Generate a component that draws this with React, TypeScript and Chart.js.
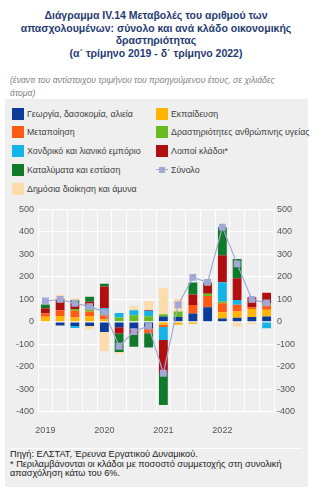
import React, { useEffect, useRef } from "react";
import { Chart, registerables } from "chart.js";

Chart.register(...registerables);

const quarters = ["2019", "", "", "", "2020", "", "", "", "2021", "", "", "", "2022", "", "", ""];

const agriculture = [0, -16, -18, -18, -45, -24, -32, -28, 24, 22, 38, 65, 15, 19, 22, 24];
const education = [23, 27, 20, 24, 12, 0, 0, 0, -12, -12, -8, 0, 28, 27, 35, 30];
const manufacturing = [16, 25, 30, 22, 18, 0, 0, -22, -10, 0, 37, 50, 40, 30, 8, 20];
const health = [0, 0, 8, 15, 10, 20, 30, 25, 10, 25, 0, 10, 8, 0, 0, 8];
const trade = [0, 0, -9, 10, 22, 20, 22, 25, -58, 0, 0, 0, 85, 22, 0, -28];
const otherSectors = [22, 50, 25, 19, 95, -27, -18, 3, -148, 0, 47, 45, 120, 96, 45, 48];
const accommodation = [17, 0, 15, 22, 13, -82, -60, -63, -141, 0, 53, 5, 125, 86, 0, 0];
const publicAdmin = [0, 18, 7, -14, -85, -8, 18, 40, 116, 55, 0, 0, 0, -20, -10, 0];
const total = [93, 100, 83, 68, 45, -108, -43, -18, -228, 76, 198, 176, 421, 258, 100, 85];

const yTicks = [-400, -300, -200, -100, 0, 100, 200, 300, 400, 500];

const barSeries = [
  { label: "Γεωργία, δασοκομία, αλιεία", data: agriculture, color: "#0d3b99" },
  { label: "Εκπαίδευση", data: education, color: "#ffb400" },
  { label: "Μεταποίηση", data: manufacturing, color: "#ff5a14" },
  { label: "Δραστηριότητες ανθρώπινης υγείας", data: health, color: "#66bb1e" },
  { label: "Χονδρικό και λιανικό εμπόριο", data: trade, color: "#14b4e8" },
  { label: "Λοιποί κλάδοι*", data: otherSectors, color: "#b00f10" },
  { label: "Καταλύματα και εστίαση", data: accommodation, color: "#0e7a2a" },
  { label: "Δημόσια διοίκηση και άμυνα", data: publicAdmin, color: "#fcdcab" },
];
const totalLabel = "Σύνολο";
const totalColor = "#a2a7d6";

const legendRows: Array<Array<{ label: string; color: string; line?: boolean }>> = [
  [barSeries[0], barSeries[1]],
  [barSeries[2], barSeries[3]],
  [barSeries[4], barSeries[5]],
  [barSeries[6], { label: totalLabel, color: totalColor, line: true }],
  [barSeries[7]],
];

const FONT = "'Liberation Sans', Arial, sans-serif";

export default function App() {
  const canvasRef = useRef<HTMLCanvasElement | null>(null);

  useEffect(() => {
    const canvas = canvasRef.current;
    if (!canvas) return;
    const tickStyle = { family: FONT, size: 9 };
    const chart = new Chart(canvas, {
      type: "bar",
      data: {
        labels: quarters,
        datasets: [
          {
            type: "line",
            label: totalLabel,
            data: total,
            borderColor: totalColor,
            backgroundColor: totalColor,
            borderWidth: 1.2,
            pointStyle: "rect",
            pointRadius: 4,
            pointBackgroundColor: totalColor,
            pointBorderColor: totalColor,
            tension: 0,
            stack: "total",
            order: 0,
          } as any,
          ...barSeries.map((s) => ({
            type: "bar" as const,
            label: s.label,
            data: s.data,
            backgroundColor: s.color,
            borderWidth: 0,
            stack: "bars",
            order: 1,
            barPercentage: 0.6,
            categoryPercentage: 1,
          })),
        ],
      },
      options: {
        animation: false,
        responsive: false,
        devicePixelRatio: 1,
        layout: { padding: { top: 9, left: 0, right: 0, bottom: 0 } },
        plugins: { legend: { display: false }, tooltip: { enabled: false } },
        scales: {
          x: {
            stacked: true,
            offset: true,
            grid: { color: "#ffffff", lineWidth: 1, offset: true, drawTicks: false },
            border: { display: false },
            ticks: {
              autoSkip: false,
              maxRotation: 0,
              padding: 13,
              color: "#555555",
              font: tickStyle,
            },
            afterFit: (scale: any) => {
              scale.height = 30;
            },
          },
          y: {
            stacked: true,
            min: -400,
            max: 500,
            position: "left",
            grid: { color: "#ffffff", lineWidth: 1.2, drawTicks: false },
            border: { display: false },
            afterBuildTicks: (scale: any) => {
              scale.ticks = yTicks.map((v) => ({ value: v }));
            },
            ticks: { padding: 4, color: "#555555", font: tickStyle },
            afterFit: (scale: any) => {
              scale.width = 33;
            },
          },
          y2: {
            min: -400,
            max: 500,
            position: "right",
            grid: { drawOnChartArea: false, drawTicks: false },
            border: { display: false },
            afterBuildTicks: (scale: any) => {
              scale.ticks = yTicks.map((v) => ({ value: v }));
            },
            ticks: { padding: 3, color: "#555555", font: tickStyle },
            afterFit: (scale: any) => {
              scale.width = 34;
            },
          },
        },
      },
    });
    return () => chart.destroy();
  }, []);

  return (
    <div
      style={{
        position: "absolute",
        left: 0,
        top: 0,
        width: 323,
        height: 490,
        background: "#ffffff",
        fontFamily: FONT,
        overflow: "hidden",
      }}
    >
      <div
        style={{
          position: "absolute",
          top: 9,
          left: 0,
          width: 312,
          textAlign: "center",
          fontSize: 10.5,
          fontWeight: "bold",
          lineHeight: "12.5px",
          color: "#1f3b73",
        }}
      >
        Διάγραμμα IV.14 Μεταβολές του αριθμού των
        <br />
        απασχολουμένων: σύνολο και ανά κλάδο οικονομικής
        <br />
        δραστηριότητας
        <br />
        (α΄ τρίμηνο 2019 - δ΄ τρίμηνο 2022)
      </div>
      <div
        style={{
          position: "absolute",
          top: 73.5,
          left: 10,
          fontSize: 8.6,
          fontStyle: "italic",
          lineHeight: "13px",
          color: "#7f7f7f",
          whiteSpace: "nowrap",
        }}
      >
        (έναντι του αντίστοιχου τριμήνου του προηγούμενου έτους, σε χιλιάδες
        <br />
        άτομα)
      </div>
      <div
        style={{
          position: "absolute",
          left: 5,
          top: 99,
          width: 303,
          height: 388,
          background: "#efefef",
        }}
      />
      {legendRows.map((row, ri) =>
        row.map((item, ci) => {
          const cy = 113.5 + 18.8 * ri;
          const sx = ci === 0 ? 12 : 156;
          return (
            <React.Fragment key={`${ri}-${ci}`}>
              {item.line ? (
                <div style={{ position: "absolute", left: sx, top: cy - 6, width: 12, height: 12 }}>
                  <div
                    style={{
                      position: "absolute",
                      left: 0,
                      top: 5.5,
                      width: 12,
                      height: 1,
                      background: item.color,
                    }}
                  />
                  <div
                    style={{
                      position: "absolute",
                      left: 3,
                      top: 3,
                      width: 6,
                      height: 6,
                      background: item.color,
                    }}
                  />
                </div>
              ) : (
                <div
                  style={{
                    position: "absolute",
                    left: sx,
                    top: cy - 6,
                    width: 12,
                    height: 12,
                    background: item.color,
                  }}
                />
              )}
              <div
                style={{
                  position: "absolute",
                  left: sx + 15,
                  top: cy - 6,
                  height: 12,
                  lineHeight: "12px",
                  fontSize: 8.8,
                  color: "#404040",
                  whiteSpace: "nowrap",
                }}
              >
                {item.label}
              </div>
            </React.Fragment>
          );
        })
      )}
      <canvas
        ref={canvasRef}
        width={303}
        height={242}
        style={{ position: "absolute", left: 5, top: 200, width: 303, height: 242 }}
      />
      <div
        style={{
          position: "absolute",
          left: 10,
          top: 448,
          width: 292,
          height: 1,
          background: "#ffffff",
        }}
      />
      <div
        style={{
          position: "absolute",
          left: 10,
          top: 450,
          fontSize: 9.2,
          lineHeight: "9.5px",
          color: "#222222",
          whiteSpace: "nowrap",
        }}
      >
        Πηγή: ΕΛΣΤΑΤ, Έρευνα Εργατικού Δυναμικού.
        <br />
        * Περιλαμβάνονται οι κλάδοι με ποσοστό συμμετοχής στη συνολική
        <br />
        απασχόληση κάτω του 6%.
      </div>
    </div>
  );
}
